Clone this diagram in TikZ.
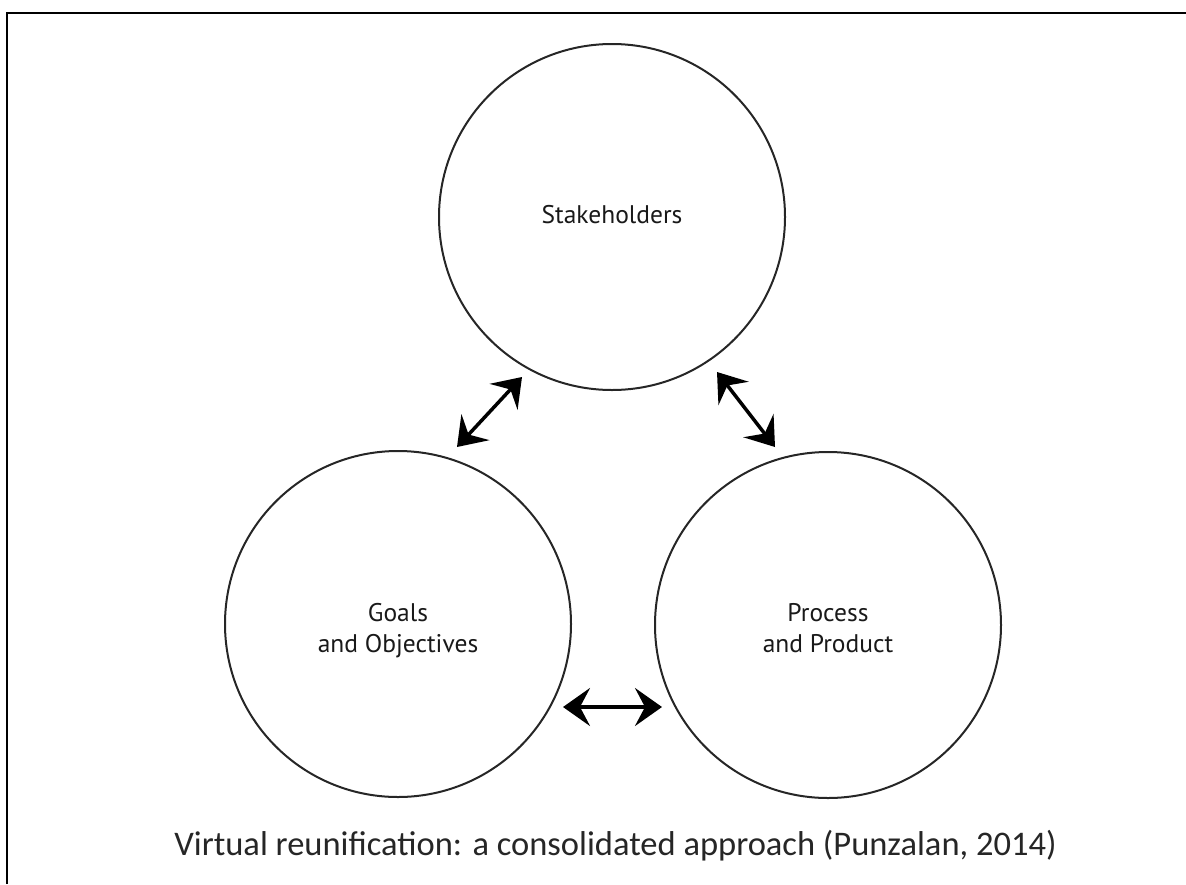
\documentclass[tikz,border=0pt]{standalone}
\usepackage{fontspec}
\setmainfont{PT Sans}
\newfontfamily\capfont{Carlito}
\usetikzlibrary{arrows.meta}
\tikzset{
  bubble/.style={circle, draw=black!85, line width=2pt, minimum size=346pt, inner sep=0pt},
  bubbletext/.style={align=center, inner sep=0pt, font=\fontsize{25.5}{31}\selectfont, text=black!90},
  twoway/.style={line width=3.5pt, {Stealth[length=27pt,width=38pt,inset=10pt]}-{Stealth[length=27pt,width=38pt,inset=10pt]}},
  frameline/.style={line width=2.5pt, black}
}
\begin{document}
\begin{tikzpicture}[x=1pt,y=-1pt]
\useasboundingbox (0,0) rectangle (1186,884);
\draw[frameline] (7,884) -- (7,13) -- (1186,13);
\node[bubble] (S) at (612,217) {};
\node[bubble] (G) at (398,624) {};
\node[bubble] (P) at (828,625) {};
\node[bubbletext] (St) at ([yshift=2pt]S.center) {Stakeholders};
\node[bubbletext] (Gt) at ([yshift=-6.5pt]G.center) {Goals\\and Objectives};
\node[bubbletext] (Pt) at ([yshift=-3.5pt]P.center) {Process\\and Product};
\coordinate (gs1) at (457,447);
\coordinate (gs2) at (522,377);
\coordinate (ps1) at (717,372);
\coordinate (ps2) at (775,447);
\coordinate (gp1) at (563,707);
\coordinate (gp2) at (662,707);
\draw[twoway] (gs1) -- (gs2);
\draw[twoway] (ps1) -- (ps2);
\draw[twoway] (gp1) -- (gp2);
\node[font=\capfont\fontsize{34.5}{38}\selectfont, anchor=base, text=black!85] (cap) at (615.5,855) {Virtual reunification: a consolidated approach (Punzalan, 2014)};
\end{tikzpicture}
\end{document}
